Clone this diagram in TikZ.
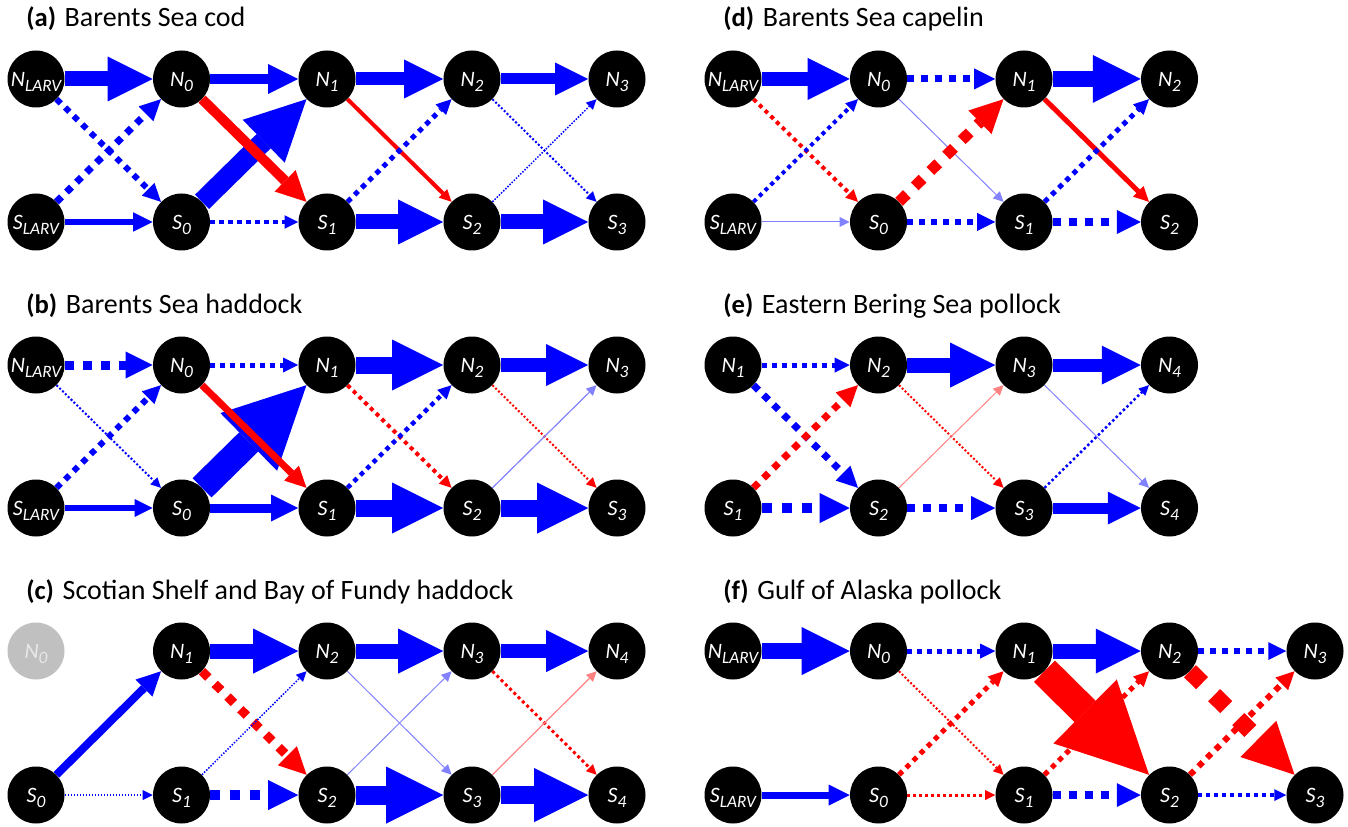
\documentclass[tikz,border=0pt]{standalone}
\usepackage{fontspec}
\setmainfont{Carlito}
\usetikzlibrary{arrows.meta}
\pgfdeclarelayer{bg}
\pgfsetlayers{bg,main}
\definecolor{lblue}{RGB}{130,130,255}
\definecolor{lred}{RGB}{255,130,130}
\newcommand\lb[2]{#1\smash{\raisebox{-0.25em}{\fontsize{13}{13}\selectfont #2}}}
\tikzset{
  nd/.style={circle, fill=black, minimum size=42.75pt, inner sep=0pt, text=white,
    font=\fontsize{16.5}{17}\selectfont\itshape},
  gnd/.style={nd, fill={rgb,255:red,192;green,192;blue,192}, text={rgb,255:red,232;green,232;blue,232}},
  ttl/.style={anchor=base west, inner sep=0pt, font=\fontsize{21}{22}\selectfont},
  as/.code={\pgfmathsetmacro\lw{#1*0.75}\pgfmathsetmacro\hs{max(3*#1,10)*0.75}%
    \edef\tmp{\noexpand\tikzset{line width=\lw pt,-{Triangle[length=\hs pt,width=\hs pt,line width=0pt]}}}\tmp},
  ad/.code={\pgfmathsetmacro\lw{#1*0.75}\pgfmathsetmacro\hs{max(3*#1,10)*0.75}%
    \edef\tmp{\noexpand\tikzset{line width=\lw pt,dash pattern=on \lw pt off \lw pt,-{Triangle[length=\hs pt,width=\hs pt,line width=0pt]}}}\tmp},
}
\begin{document}
\begin{tikzpicture}[x=0.75pt,y=-0.75pt]
\useasboundingbox (0,0) rectangle (1348,827);
% titles
\node[ttl] (ta) at (26,27) {{\bfseries\fontsize{20}{20}\selectfont (a)}\hspace{6.5pt}Barents Sea cod};
\node[ttl] (tb) at (26,313) {{\bfseries\fontsize{20}{20}\selectfont (b)}\hspace{6.5pt}Barents Sea haddock};
\node[ttl] (tc) at (26,599) {{\bfseries\fontsize{20}{20}\selectfont (c)}\hspace{6.5pt}Scotian Shelf and Bay of Fundy haddock};
\node[ttl] (td) at (723,27) {{\bfseries\fontsize{20}{20}\selectfont (d)}\hspace{6.5pt}Barents Sea capelin};
\node[ttl] (te) at (723,313) {{\bfseries\fontsize{20}{20}\selectfont (e)}\hspace{6.5pt}Eastern Bering Sea pollock};
\node[ttl] (tf) at (723,599) {{\bfseries\fontsize{20}{20}\selectfont (f)}\hspace{6.5pt}Gulf of Alaska pollock};
% panel a
\node[nd] (aNL) at (36,79) {\lb{N}{LARV}};
\node[nd] (aN0) at (181.5,79) {\lb{N}{0}};
\node[nd] (aN1) at (327,79) {\lb{N}{1}};
\node[nd] (aN2) at (472,79) {\lb{N}{2}};
\node[nd] (aN3) at (617,79) {\lb{N}{3}};
\node[nd] (aSL) at (36,222) {\lb{S}{LARV}};
\node[nd] (aS0) at (181.5,222) {\lb{S}{0}};
\node[nd] (aS1) at (327,222) {\lb{S}{1}};
\node[nd] (aS2) at (472,222) {\lb{S}{2}};
\node[nd] (aS3) at (617,222) {\lb{S}{3}};
% panel b
\node[nd] (bNL) at (36,365) {\lb{N}{LARV}};
\node[nd] (bN0) at (181.5,365) {\lb{N}{0}};
\node[nd] (bN1) at (327,365) {\lb{N}{1}};
\node[nd] (bN2) at (472,365) {\lb{N}{2}};
\node[nd] (bN3) at (617,365) {\lb{N}{3}};
\node[nd] (bSL) at (36,508) {\lb{S}{LARV}};
\node[nd] (bS0) at (181.5,508) {\lb{S}{0}};
\node[nd] (bS1) at (327,508) {\lb{S}{1}};
\node[nd] (bS2) at (472,508) {\lb{S}{2}};
\node[nd] (bS3) at (617,508) {\lb{S}{3}};
% panel c
\node[gnd] (cN0) at (36,651) {\lb{N}{0}};
\node[nd] (cN1) at (181.5,651) {\lb{N}{1}};
\node[nd] (cN2) at (327,651) {\lb{N}{2}};
\node[nd] (cN3) at (472,651) {\lb{N}{3}};
\node[nd] (cN4) at (617,651) {\lb{N}{4}};
\node[nd] (cS0) at (36,795) {\lb{S}{0}};
\node[nd] (cS1) at (181.5,795) {\lb{S}{1}};
\node[nd] (cS2) at (327,795) {\lb{S}{2}};
\node[nd] (cS3) at (472,795) {\lb{S}{3}};
\node[nd] (cS4) at (617,795) {\lb{S}{4}};
% panel d
\node[nd] (dNL) at (733,79) {\lb{N}{LARV}};
\node[nd] (dN0) at (878.5,79) {\lb{N}{0}};
\node[nd] (dN1) at (1024,79) {\lb{N}{1}};
\node[nd] (dN2) at (1169.5,79) {\lb{N}{2}};
\node[nd] (dSL) at (733,222) {\lb{S}{LARV}};
\node[nd] (dS0) at (878.5,222) {\lb{S}{0}};
\node[nd] (dS1) at (1024,222) {\lb{S}{1}};
\node[nd] (dS2) at (1169.5,222) {\lb{S}{2}};
% panel e
\node[nd] (eN1) at (733,365) {\lb{N}{1}};
\node[nd] (eN2) at (878.5,365) {\lb{N}{2}};
\node[nd] (eN3) at (1024,365) {\lb{N}{3}};
\node[nd] (eN4) at (1169.5,365) {\lb{N}{4}};
\node[nd] (eS1) at (733,508) {\lb{S}{1}};
\node[nd] (eS2) at (878.5,508) {\lb{S}{2}};
\node[nd] (eS3) at (1024,508) {\lb{S}{3}};
\node[nd] (eS4) at (1169.5,508) {\lb{S}{4}};
% panel f
\node[nd] (fNL) at (733,651) {\lb{N}{LARV}};
\node[nd] (fN0) at (878.5,651) {\lb{N}{0}};
\node[nd] (fN1) at (1024,651) {\lb{N}{1}};
\node[nd] (fN2) at (1169.5,651) {\lb{N}{2}};
\node[nd] (fN3) at (1315,651) {\lb{N}{3}};
\node[nd] (fSL) at (733,795) {\lb{S}{LARV}};
\node[nd] (fS0) at (878.5,795) {\lb{S}{0}};
\node[nd] (fS1) at (1024,795) {\lb{S}{1}};
\node[nd] (fS2) at (1169.5,795) {\lb{S}{2}};
\node[nd] (fS3) at (1315,795) {\lb{S}{3}};
\begin{pgfonlayer}{bg}
% a
\draw[blue,as=15] (aNL)--(aN0);
\draw[blue,as=10] (aN0)--(aN1);
\draw[blue,as=13] (aN1)--(aN2);
\draw[blue,as=11] (aN2)--(aN3);
\draw[blue,as=6.5] (aSL)--(aS0);
\draw[blue,ad=4.5] (aS0)--(aS1);
\draw[blue,as=15] (aS1)--(aS2);
\draw[blue,as=15] (aS2)--(aS3);
\draw[blue,ad=6] (aNL)--(aS0);
\draw[blue,ad=7] (aSL)--(aN0);
\draw[blue,as=20] (aS0)--(aN1);
\draw[red,as=10] (aN0)--(aS1);
\draw[red,as=4] (aN1)--(aS2);
\draw[blue,ad=5] (aS1)--(aN2);
\draw[blue,ad=2] (aN2)--(aS3);
\draw[blue,ad=1.5] (aS2)--(aN3);
% b
\draw[blue,ad=9] (bNL)--(bN0);
\draw[blue,ad=5] (bN0)--(bN1);
\draw[blue,as=17] (bN1)--(bN2);
\draw[blue,as=14] (bN2)--(bN3);
\draw[blue,as=6] (bSL)--(bS0);
\draw[blue,as=9] (bS0)--(bS1);
\draw[blue,as=17] (bS1)--(bS2);
\draw[blue,as=17] (bS2)--(bS3);
\draw[blue,ad=2] (bNL)--(bS0);
\draw[blue,ad=6] (bSL)--(bN0);
\draw[blue,as=27] (bS0)--(bN1);
\draw[red,as=7] (bN0)--(bS1);
\draw[red,ad=4] (bN1)--(bS2);
\draw[blue,ad=4.5] (bS1)--(bN2);
\draw[red,ad=2] (bN2)--(bS3);
\draw[lblue,as=1.2] (bS2)--(bN3);
% c
\draw[blue,as=8] (cS0)--(cN1);
\draw[blue,ad=1.5] (cS0)--(cS1);
\draw[blue,as=15] (cN1)--(cN2);
\draw[blue,as=15] (cN2)--(cN3);
\draw[blue,as=14] (cN3)--(cN4);
\draw[blue,ad=10] (cS1)--(cS2);
\draw[blue,as=19] (cS2)--(cS3);
\draw[blue,as=18] (cS3)--(cS4);
\draw[red,ad=9] (cN1)--(cS2);
\draw[blue,ad=1.5] (cS1)--(cN2);
\draw[lblue,as=1] (cN2)--(cS3);
\draw[lblue,as=1] (cS2)--(cN3);
\draw[red,ad=3] (cN3)--(cS4);
\draw[lred,as=1.2] (cS3)--(cN4);
% d
\draw[blue,as=14] (dNL)--(dN0);
\draw[blue,ad=7] (dN0)--(dN1);
\draw[blue,as=16] (dN1)--(dN2);
\draw[lblue,as=1] (dSL)--(dS0);
\draw[blue,ad=6] (dS0)--(dS1);
\draw[blue,ad=8] (dS1)--(dS2);
\draw[red,ad=4] (dNL)--(dS0);
\draw[blue,ad=4] (dSL)--(dN0);
\draw[lblue,as=1] (dN0)--(dS1);
\draw[red,ad=11] (dS0)--(dN1);
\draw[red,as=5] (dN1)--(dS2);
\draw[blue,ad=5] (dS1)--(dN2);
% e
\draw[blue,ad=5] (eN1)--(eN2);
\draw[blue,as=15] (eN2)--(eN3);
\draw[blue,as=13] (eN3)--(eN4);
\draw[blue,ad=10] (eS1)--(eS2);
\draw[blue,ad=8] (eS2)--(eS3);
\draw[blue,as=11] (eS3)--(eS4);
\draw[blue,ad=7] (eN1)--(eS2);
\draw[red,ad=7] (eS1)--(eN2);
\draw[red,ad=2] (eN2)--(eS3);
\draw[lred,as=1] (eS2)--(eN3);
\draw[lblue,as=1] (eN3)--(eS4);
\draw[blue,ad=2.5] (eS3)--(eN4);
% f
\draw[blue,as=16] (fNL)--(fN0);
\draw[blue,ad=5] (fN0)--(fN1);
\draw[blue,as=15] (fN1)--(fN2);
\draw[blue,ad=6] (fN2)--(fN3);
\draw[blue,as=7] (fSL)--(fS0);
\draw[red,ad=3] (fS0)--(fS1);
\draw[blue,ad=8] (fS1)--(fS2);
\draw[blue,ad=4] (fS2)--(fS3);
\draw[red,ad=2] (fN0)--(fS1);
\draw[red,ad=5] (fS0)--(fN1);
\draw[red,as=30] (fN1)--(fS2);
\draw[red,ad=5] (fS1)--(fN2);
\draw[red,ad=17] (fN2)--(fS3);
\draw[red,ad=6] (fS2)--(fN3);
\end{pgfonlayer}
\end{tikzpicture}
\end{document}
